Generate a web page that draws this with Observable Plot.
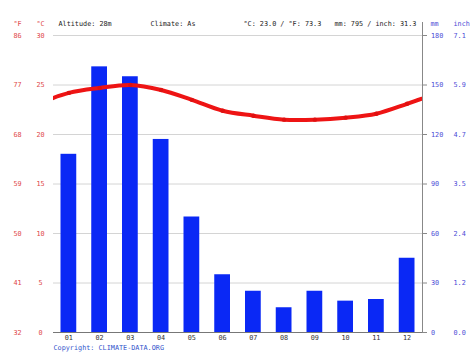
<!DOCTYPE html>
<html>
<head>
<meta charset="utf-8">
<script src="https://cdn.jsdelivr.net/npm/d3@7"></script>
<script src="https://cdn.jsdelivr.net/npm/@observablehq/plot@0.6"></script>
<style>
  html, body { margin: 0; padding: 0; background: #fff; }
</style>
</head>
<body>
<div id="chart"></div>
<script>
const months = ["01","02","03","04","05","06","07","08","09","10","11","12"];
const precipMm = [108, 161, 155, 117, 70, 35, 25, 15, 25, 19, 20, 45];
const tempC = [24.2, 24.7, 25.0, 24.5, 23.5, 22.4, 21.9, 21.5, 21.5, 21.7, 22.1, 23.1];
const mmTicks = [0, 30, 60, 90, 120, 150, 180];
const cTicks = ["0", "5", "10", "15", "20", "25", "30"];
const fTicks = ["32", "41", "50", "59", "68", "77", "86"];
const inchTicks = ["0.0", "1.2", "2.4", "3.5", "4.7", "5.9", "7.1"];
const headerLeft = ["°F", "°C"];
const headerRight = ["mm", "inch"];
const infoTexts = ["Altitude: 28m", "Climate: As", "°C: 23.0 / °F: 73.3", "mm: 795 / inch: 31.3"];
const copyright = "Copyright: CLIMATE-DATA.ORG";

const mmPerC = 180 / 30;
const bars = months.map((m, i) => ({m: i + 1, label: m, mm: precipMm[i]}));
const pts = months.map((m, i) => ({m: i + 1, t: tempC[i]}));
// wrap-around so the line continues to the plot edges
const linePts = [{m: 0, t: tempC[11]}, ...pts, {m: 13, t: tempC[0]}];

const red = "#e04848";
const blue = "#4c4cd6";

const chart = Plot.plot({
  width: 474,
  height: 355,
  marginLeft: 53,
  marginRight: 52,
  marginTop: 35,
  marginBottom: 23,
  style: {fontFamily: "'DejaVu Sans Mono', monospace", fontSize: "6.8px", background: "#fff", overflow: "visible"},
  x: {domain: [0.5, 12.5], axis: null, label: null},
  y: {domain: [0, 180], axis: null, label: null},
  marks: [
    Plot.gridY(mmTicks, {stroke: "#d4d4d4", strokeOpacity: 1}),
    Plot.rectY(bars, {x1: d => d.m - 0.5, x2: d => d.m + 0.5, y: "mm", fill: "#0a28f5", insetLeft: 7.5, insetRight: 7.5}),
    Plot.line(linePts, {x: "m", y: d => d.t * mmPerC, stroke: "#ee1414", strokeWidth: 4, curve: "catmull-rom", clip: true}),
    Plot.dot(pts, {x: "m", y: d => d.t * mmPerC, fill: "#e01010", r: 2.2}),
    Plot.ruleY([0], {stroke: "#777"}),
    Plot.frame({anchor: "right", stroke: "#888", insetTop: -13}),
    Plot.axisY({anchor: "right", ticks: mmTicks, tickSize: 4, tickFormat: () => "", stroke: "#888", label: null}),
    Plot.axisX({ticks: bars.map(d => d.m), tickFormat: d => months[d - 1], tickSize: 0, tickPadding: 3, fill: "#333", label: null}),
    // left axes
    Plot.text(mmTicks, {y: d => d, text: (d, i) => cTicks[i], frameAnchor: "left", dx: -13, textAnchor: "middle", fill: red}),
    Plot.text(mmTicks, {y: d => d, text: (d, i) => fTicks[i], frameAnchor: "left", dx: -36, textAnchor: "middle", fill: red}),
    // right axes
    Plot.text(mmTicks, {y: d => d, text: d => String(d), frameAnchor: "right", dx: 8.5, textAnchor: "start", fill: blue}),
    Plot.text(mmTicks, {y: d => d, text: (d, i) => inchTicks[i], frameAnchor: "right", dx: 31, textAnchor: "start", fill: blue}),
    // header
    Plot.text([headerLeft[0]], {text: d => d, frameAnchor: "top-left", dx: -36, dy: -14.5, textAnchor: "middle", fill: red}),
    Plot.text([headerLeft[1]], {text: d => d, frameAnchor: "top-left", dx: -13, dy: -14.5, textAnchor: "middle", fill: red}),
    Plot.text([headerRight[0]], {text: d => d, frameAnchor: "top-right", dx: 8, dy: -14.5, textAnchor: "start", fill: blue}),
    Plot.text([headerRight[1]], {text: d => d, frameAnchor: "top-right", dx: 31, dy: -14.5, textAnchor: "start", fill: blue}),
    Plot.text([infoTexts[0]], {text: d => d, frameAnchor: "top-left", dx: 5, dy: -14.5, textAnchor: "start", fill: "#222"}),
    Plot.text([infoTexts[1]], {text: d => d, frameAnchor: "top-left", dx: 97, dy: -14.5, textAnchor: "start", fill: "#222"}),
    Plot.text([infoTexts[2]], {text: d => d, frameAnchor: "top-left", dx: 190, dy: -14.5, textAnchor: "start", fill: "#222"}),
    Plot.text([infoTexts[3]], {text: d => d, frameAnchor: "top-left", dx: 281, dy: -14.5, textAnchor: "start", fill: "#222"}),
    Plot.text([copyright], {text: d => d, frameAnchor: "bottom-left", dx: 0, dy: 17, textAnchor: "start", fill: "#3355cc"})
  ]
});
document.getElementById("chart").appendChild(chart);
</script>
</body>
</html>
